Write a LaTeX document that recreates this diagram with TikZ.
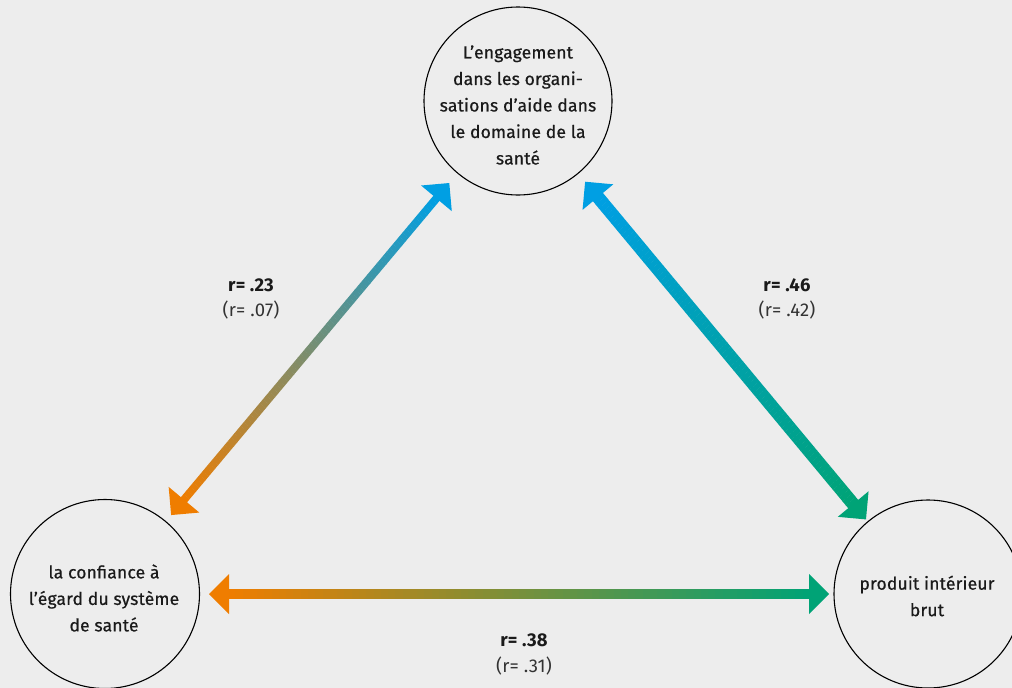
\documentclass[tikz,border=0pt]{standalone}
\usepackage{fontspec}
\setmainfont{Fira Sans}[LetterSpace=1]
\newfontfamily\medf{Fira Sans}[LetterSpace=1, FakeBold=0.6]
\usetikzlibrary{calc}
\definecolor{bg}{RGB}{237,237,237}
\definecolor{orangeA}{RGB}{239,125,0}
\definecolor{blueA}{RGB}{0,159,227}
\definecolor{greenA}{RGB}{0,163,118}
\definecolor{txt}{RGB}{26,26,26}
\definecolor{txtB}{RGB}{51,51,51}
\newcommand\gradshaft[5]{%
  \foreach \i in {0,...,79}{%
    \pgfmathsetmacro\pa{\i/80}%
    \pgfmathsetmacro\pb{min(1,(\i+1.05)/80)}%
    \pgfmathsetmacro\pc{100*(\i+0.5)/80}%
    \fill[color=#4!\pc!#3] ($($(#1)!\pa!(#2)$)!#5!90:(#2)$) -- ($($(#1)!\pa!(#2)$)!#5!-90:(#2)$) -- ($($(#1)!\pb!(#2)$)!#5!90:(#1)$) -- ($($(#1)!\pb!(#2)$)!#5!-90:(#1)$) -- cycle;
  }}
\newcommand\headtri[3]{% tip, toward, color
  \fill[#3] (#1) -- ($($(#1)!20pt!(#2)$)!20pt!90:(#2)$) -- ($($(#1)!20pt!(#2)$)!20pt!-90:(#2)$) -- cycle;}
\begin{document}
\begin{tikzpicture}[x=1pt,y=-1pt,
  var/.style={circle, draw=black, line width=1.1pt, minimum size=188pt, inner sep=0pt},
  vtext/.style={align=center, text=txt, font={\fontsize{17.5}{26.5}\selectfont\medf}},
  rbold/.style={text=txt, font={\fontsize{18.5}{20}\selectfont\bfseries}},
  rpar/.style={text=txtB, font={\fontsize{18.5}{20}\selectfont}}]
\fill[bg] (0,0) rectangle (1012,688);
\useasboundingbox (0,0) rectangle (1012,688);
\begin{scope}
\clip (0,0) rectangle (1012,688);
\node[var] (eng) at (518,101) {};
\node[var, minimum size=189pt] (conf) at (105,594) {};
\node[var] (gdp) at (928,594) {};
\end{scope}
\node[vtext] (engT) at (518,105) {L’engagement\\dans les organi-\\sations d’aide dans\\le domaine de la\\santé};
\node[vtext] (confT) at (104,598) {la confiance à\\l’égard du système\\de santé};
\node[vtext] (gdpT) at (927,596) {produit intérieur\\brut};
% tips
\coordinate (a1) at ($(conf)!103pt!(eng)$);
\coordinate (a2) at ($(eng)!107pt!(conf)$);
\coordinate (b1) at ($(eng)!105pt!(gdp)$);
\coordinate (b2) at ($(gdp)!97pt!(eng)$);
\coordinate (c1) at ($(conf)!104pt!(gdp)$);
\coordinate (c2) at ($(gdp)!99pt!(conf)$);
% bases
\coordinate (a1b) at ($(a1)!19pt!(a2)$);
\coordinate (a2b) at ($(a2)!19pt!(a1)$);
\coordinate (b1b) at ($(b1)!19pt!(b2)$);
\coordinate (b2b) at ($(b2)!19pt!(b1)$);
\coordinate (c1b) at ($(c1)!19pt!(c2)$);
\coordinate (c2b) at ($(c2)!19pt!(c1)$);
\gradshaft{a1b}{a2b}{orangeA}{blueA}{4pt}
\gradshaft{b1b}{b2b}{blueA}{greenA}{6.5pt}
\gradshaft{c1b}{c2b}{orangeA}{greenA}{5pt}
\headtri{a1}{a2}{orangeA}
\headtri{a2}{a1}{blueA}
\headtri{b1}{b2}{blueA}
\headtri{b2}{b1}{greenA}
\headtri{c1}{c2}{orangeA}
\headtri{c2}{c1}{greenA}
% labels
\node[rbold] (l1) at (251,285) {r= .23};
\node[rpar] (l1p) at (251,310) {(r= .07)};
\node[rbold] (l2) at (787,285) {r= .46};
\node[rpar] (l2p) at (787,310) {(r= .42)};
\node[rbold] (l3) at (524,640) {r= .38};
\node[rpar] (l3p) at (524,666) {(r= .31)};
\end{tikzpicture}
\end{document}
